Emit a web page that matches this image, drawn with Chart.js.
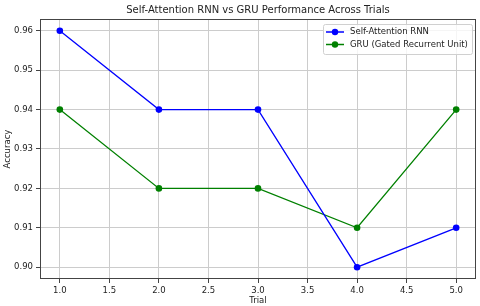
<!DOCTYPE html>
<html>
<head>
<meta charset="utf-8">
<script src="https://cdn.jsdelivr.net/npm/chart.js@4/dist/chart.umd.min.js"></script>
<style>
  html, body { margin: 0; padding: 0; background: #fff; }
  #wrap { width: 480px; height: 306px; }
</style>
</head>
<body>
<div id="wrap"><canvas id="chart" width="480" height="306"></canvas></div>
<script>
// data
const trials = [1, 2, 3, 4, 5];
const attentionAcc = [0.96, 0.94, 0.94, 0.90, 0.91];
const gruAcc = [0.94, 0.92, 0.92, 0.91, 0.94];
const xTicks = [1.0, 1.5, 2.0, 2.5, 3.0, 3.5, 4.0, 4.5, 5.0];
const yTicks = [0.90, 0.91, 0.92, 0.93, 0.94, 0.95, 0.96];

const FONT = "'DejaVu Sans', sans-serif";

// draws title, axis titles, frame and the in-plot legend like matplotlib
const decor = {
  id: 'decor',
  afterDraw(chart) {
    const ctx = chart.ctx;
    const a = chart.chartArea;
    ctx.save();
    ctx.strokeStyle = '#444';
    ctx.lineWidth = 1;
    ctx.strokeRect(a.left + 0.5, a.top + 0.5, a.right - a.left - 1, a.bottom - a.top - 1);

    ctx.fillStyle = '#222';
    ctx.textAlign = 'center';
    ctx.textBaseline = 'middle';
    ctx.font = '10px ' + FONT;
    ctx.fillText('Self-Attention RNN vs GRU Performance Across Trials', (a.left + a.right) / 2, 10);

    ctx.font = '8.5px ' + FONT;
    ctx.fillText('Trial', (a.left + a.right) / 2, 301);
    ctx.save();
    ctx.translate(8, (a.top + a.bottom) / 2);
    ctx.rotate(-Math.PI / 2);
    ctx.fillText('Accuracy', 0, 0);
    ctx.restore();

    // legend box
    const bx = 323, by = 24, bw = 149, bh = 30;
    ctx.fillStyle = 'rgba(255,255,255,0.8)';
    ctx.strokeStyle = '#d0d0d0';
    ctx.beginPath();
    ctx.roundRect(bx + 0.5, by + 0.5, bw, bh, 2);
    ctx.fill();
    ctx.stroke();
    ctx.textAlign = 'left';
    chart.data.datasets.forEach((ds, i) => {
      const y = 32 + i * 12.5;
      ctx.strokeStyle = ds.borderColor;
      ctx.lineWidth = 1.5;
      ctx.beginPath();
      ctx.moveTo(326, y);
      ctx.lineTo(344, y);
      ctx.stroke();
      ctx.fillStyle = ds.borderColor;
      ctx.beginPath();
      ctx.arc(335, y, 3.2, 0, Math.PI * 2);
      ctx.fill();
      ctx.fillStyle = '#222';
      ctx.fillText(ds.label, 350, y);
    });
    ctx.restore();
  }
};

new Chart(document.getElementById('chart'), {
  type: 'line',
  data: {
    datasets: [
      {
        label: 'Self-Attention RNN',
        data: trials.map((t, i) => ({ x: t, y: attentionAcc[i] })),
        borderColor: '#0000ff',
        backgroundColor: '#0000ff',
        borderWidth: 1.3,
        pointRadius: 3.3,
        pointBorderWidth: 0,
        tension: 0
      },
      {
        label: 'GRU (Gated Recurrent Unit)',
        data: trials.map((t, i) => ({ x: t, y: gruAcc[i] })),
        borderColor: '#008000',
        backgroundColor: '#008000',
        borderWidth: 1.3,
        pointRadius: 3.3,
        pointBorderWidth: 0,
        tension: 0
      }
    ]
  },
  options: {
    responsive: false,
    animation: false,
    layout: { padding: { top: 19, right: 4, left: 0, bottom: 0 } },
    plugins: {
      legend: { display: false },
      title: { display: false },
      tooltip: { enabled: false }
    },
    scales: {
      x: {
        type: 'linear',
        min: 0.8,
        max: 5.2,
        afterBuildTicks: s => { s.ticks = xTicks.map(v => ({ value: v })); },
        afterFit: s => { s.height = 27; },
        ticks: {
          callback: v => v.toFixed(1),
          color: '#222',
          font: { family: FONT, size: 8.5 },
          padding: 3,
          maxRotation: 0,
          autoSkip: false
        },
        grid: { color: '#cccccc', lineWidth: 1, tickColor: '#444', tickLength: 4 },
        border: { display: false }
      },
      y: {
        min: 0.897,
        max: 0.963,
        afterBuildTicks: s => { s.ticks = yTicks.map(v => ({ value: v })); },
        afterFit: s => { s.width = 40; },
        ticks: {
          callback: v => v.toFixed(2),
          color: '#222',
          font: { family: FONT, size: 8.5 },
          padding: 3,
          autoSkip: false
        },
        grid: { color: '#cccccc', lineWidth: 1, tickColor: '#444', tickLength: 4 },
        border: { display: false }
      }
    }
  },
  plugins: [decor]
});
</script>
</body>
</html>
